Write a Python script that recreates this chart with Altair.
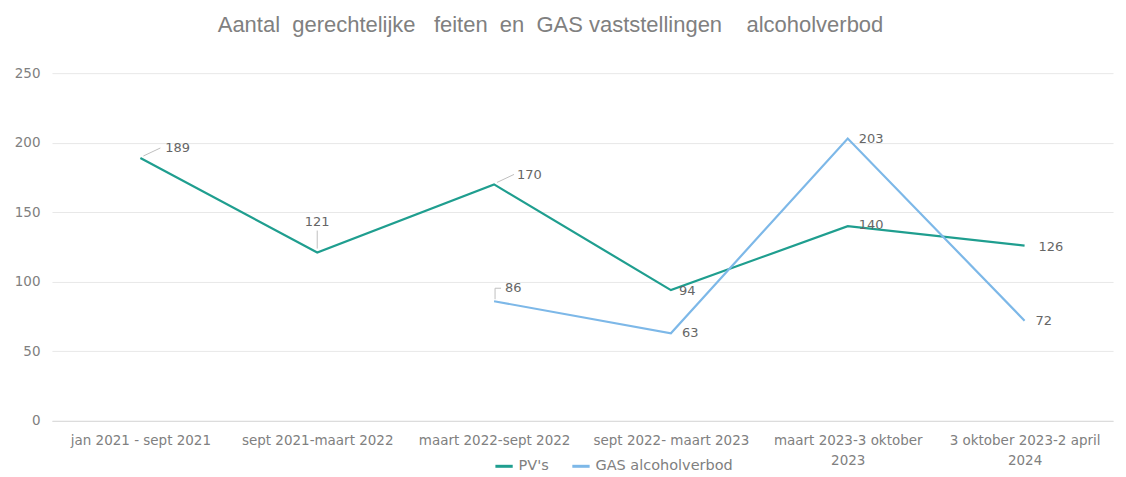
import altair as alt
import pandas as pd

categories = [
    "jan 2021 - sept 2021",
    "sept 2021-maart 2022",
    "maart 2022-sept 2022",
    "sept 2022- maart 2023",
    "maart 2023-3 oktober 2023",
    "3 oktober 2023-2 april 2024",
]
pv_values = [189, 121, 170, 94, 140, 126]
gas_values = [None, None, 86, 63, 203, 72]
series_names = ["PV's", "GAS alcoholverbod"]
series_colors = ["#1f9e8f", "#7db8e8"]
wrapped_labels = {
    "maart 2023-3 oktober 2023": ["maart 2023-3 oktober", "2023"],
    "3 oktober 2023-2 april 2024": ["3 oktober 2023-2 april", "2024"],
}

rows = []
for i, c in enumerate(categories):
    rows.append({"cat": c, "idx": i, "serie": series_names[0], "value": pv_values[i]})
    if gas_values[i] is not None:
        rows.append({"cat": c, "idx": i, "serie": series_names[1], "value": gas_values[i]})
df = pd.DataFrame(rows)

label_expr = "datum.label"
for k, v in wrapped_labels.items():
    label_expr = f"datum.label == '{k}' ? {v!r} : (" + label_expr + ")"

FONT = "DejaVu Sans"
GRAY = "#808080"

xscale = alt.Scale(type="point", padding=0.5, domain=categories)
yscale = alt.Scale(domain=[0, 250], nice=False, zero=True)
x = alt.X("cat:N", sort=categories, title=None, scale=xscale,
          axis=alt.Axis(labelAngle=0, labelLimit=0, labelExpr=label_expr,
                        labelFont=FONT, labelFontSize=13.5, labelColor=GRAY,
                        labelPadding=13, domain=True, domainColor="#d9d9d9",
                        ticks=False, grid=False, labelLineHeight=20))
y = alt.Y("value:Q", title=None, scale=yscale,
          axis=alt.Axis(values=[0, 50, 100, 150, 200, 250], grid=True, gridColor="#e8e8e8",
                        domain=False, ticks=False, labelFont=FONT, labelFontSize=13.5,
                        labelColor=GRAY, labelPadding=12))
color = alt.Color("serie:N", sort=series_names,
                  scale=alt.Scale(domain=series_names, range=series_colors),
                  legend=alt.Legend(title=None, orient="none", direction="horizontal",
                                    legendX=442, legendY=383, symbolType="stroke",
                                    symbolStrokeWidth=3, symbolSize=300,
                                    labelFont=FONT, labelFontSize=14.5,
                                    labelColor=GRAY, columnPadding=16, padding=0))

base = alt.Chart(df)
lines = base.mark_line(strokeWidth=2.2).encode(x=x, y=y, color=color, detail="serie:N")

txt_style = dict(font=FONT, fontSize=13, color="#666666", baseline="middle")

def filt(serie, idxs):
    return alt.FieldOneOfPredicate(field="idx", oneOf=idxs), alt.FieldEqualPredicate(field="serie", equal=serie)

def text_layer(serie, idxs, **kw):
    p1, p2 = filt(serie, idxs)
    return base.transform_filter(p1).transform_filter(p2).mark_text(**txt_style, **kw).encode(
        x=alt.X("cat:N", sort=categories, scale=xscale),
        y=alt.Y("value:Q", scale=yscale), text="value:Q")

def leader(serie, idxs, **kw):
    p1, p2 = filt(serie, idxs)
    return base.transform_filter(p1).transform_filter(p2).mark_rule(color="#bfbfbf", strokeWidth=1, **kw).encode(
        x=alt.X("cat:N", sort=categories, scale=xscale), x2="cat:N",
        y=alt.Y("value:Q", scale=yscale), y2="value:Q")

layers = [
    lines,
    leader("PV's", [0, 2], xOffset=3, yOffset=-2, x2Offset=20, y2Offset=-10),
    leader("PV's", [1], xOffset=0, yOffset=-4, x2Offset=0, y2Offset=-22),
    leader("GAS alcoholverbod", [2], xOffset=1, yOffset=-2, x2Offset=1, y2Offset=-13),
    leader("GAS alcoholverbod", [2], xOffset=1, yOffset=-13, x2Offset=7, y2Offset=-13),
    text_layer("PV's", [0], align="left", dx=25, dy=-10),
    text_layer("PV's", [2], align="left", dx=23, dy=-9),
    text_layer("PV's", [1], align="center", dy=-31),
    text_layer("PV's", [3], align="left", dx=8, dy=1),
    text_layer("PV's", [4], align="left", dx=11, dy=-1),
    text_layer("PV's", [5], align="left", dx=14, dy=1),
    text_layer("GAS alcoholverbod", [2], align="left", dx=11, dy=-13),
    text_layer("GAS alcoholverbod", [3, 4, 5], align="left", dx=11, dy=0),
]

chart = alt.layer(*layers).properties(
    width=1062, height=348, background="white",
    padding={"left": 6, "top": 6, "right": 5, "bottom": 0},
    title=alt.TitleParams(
        text="Aantal\u00a0\u00a0gerechtelijke\u00a0\u00a0\u00a0feiten\u00a0\u00a0en\u00a0\u00a0GAS\u00a0vaststellingen\u00a0\u00a0\u00a0\u00a0alcoholverbod",
        font="Liberation Sans", fontSize=22, fontWeight="normal", color=GRAY,
        anchor="middle", offset=29, dx=-32),
).configure_view(stroke=None)

chart.save("out.html", embed_options={"renderer": "svg", "actions": False})
